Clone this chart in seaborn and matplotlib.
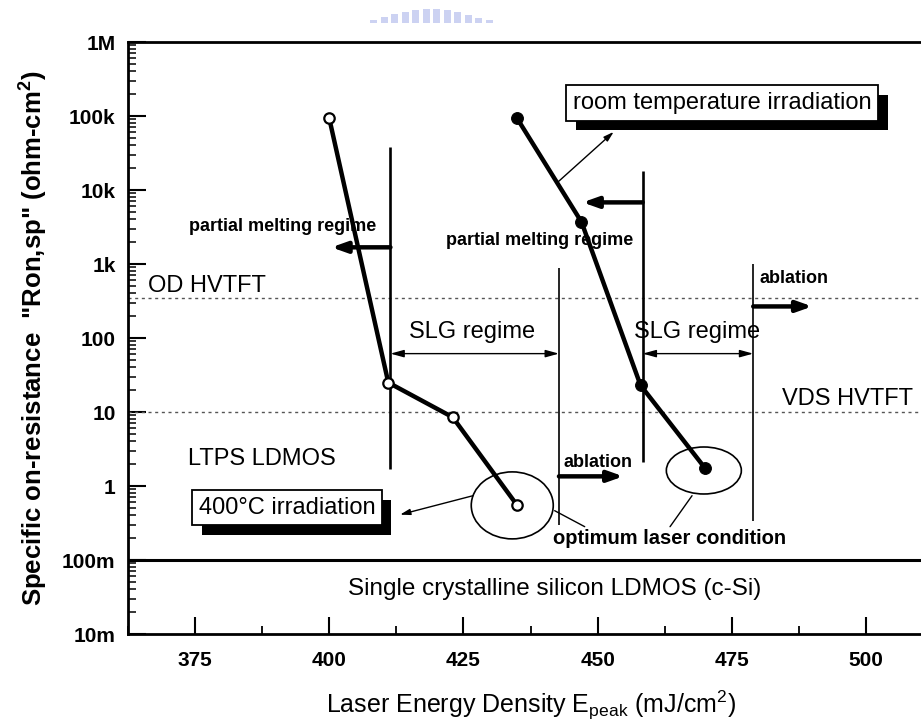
import numpy as np
import pandas as pd
import seaborn as sns
import matplotlib
matplotlib.use("Agg")
import matplotlib.pyplot as plt
import matplotlib.patheffects as pe
from matplotlib.patches import Ellipse, Rectangle
from matplotlib.ticker import FixedLocator, MultipleLocator, LogLocator, NullFormatter
from matplotlib.transforms import ScaledTranslation

# ---- measured data -------------------------------------------------------
energy_400c = [400, 411, 423, 435]          # mJ/cm^2, 400 C substrate
ron_400c = [93e3, 25, 8.5, 0.55]            # ohm-cm^2

energy_rt = [435, 447, 458, 470]            # mJ/cm^2, room temperature
ron_rt = [93e3, 3.7e3, 23, 1.75]            # ohm-cm^2

# reference device levels
od_hvtft = 350
vds_hvtft = 10
csi_ldmos = 0.1

# regime boundaries: (energy, low, high, heavy line)
boundaries = [(411.4, 1.68, 38.5e3, True),
              (442.8, 0.30, 880, False),
              (458.4, 2.1, 18e3, True),
              (479.0, 0.34, 1.0e3, False)]

x_ticks = [375, 400, 425, 450, 475, 500]
y_ticks = [1e-2, 1e-1, 1, 10, 100, 1e3, 1e4, 1e5, 1e6]
y_tick_labels = ["10m", "100m", "1", "10", "100", "1k", "10k", "100k", "1M"]

# ---- style ---------------------------------------------------------------
sns.set_style("ticks")
plt.rcParams["font.family"] = ["Liberation Sans", "DejaVu Sans"]
plt.rcParams["mathtext.fontset"] = "custom"
plt.rcParams["mathtext.rm"] = "Liberation Sans"
plt.rcParams["mathtext.bf"] = "Liberation Sans:bold"
plt.rcParams["mathtext.it"] = "Liberation Sans:italic"
for key in ["text.color", "axes.labelcolor", "xtick.color", "ytick.color", "axes.edgecolor"]:
    plt.rcParams[key] = "black"

fig = plt.figure(figsize=(9.21, 7.26), dpi=100)
fig.patch.set_facecolor("white")
ax = fig.add_axes([128 / 921, 92 / 726, 805 / 921, 592 / 726])

# faint logo watermark above the frame
for i, h in enumerate([3, 6, 9, 11, 13, 14, 14, 13, 11, 8, 5, 3]):
    fig.patches.append(Rectangle(((370 + i * 10.5) / 921, (726 - 23) / 726),
                                 7 / 921, h / 726, transform=fig.transFigure,
                                 fc="#aab4ea", ec="none", alpha=0.6))

# ---- data series ---------------------------------------------------------
df_400 = pd.DataFrame({"E": energy_400c, "R": ron_400c})
df_rt = pd.DataFrame({"E": energy_rt, "R": ron_rt})

sns.lineplot(data=df_400, x="E", y="R", ax=ax, color="black", lw=3.2,
             sort=False, estimator=None, marker="o", markersize=7.5,
             markerfacecolor="white", markeredgecolor="black",
             markeredgewidth=1.6, zorder=5)
sns.lineplot(data=df_rt, x="E", y="R", ax=ax, color="black", lw=3.2,
             sort=False, estimator=None, marker="o", markersize=8.5,
             markerfacecolor="black", markeredgecolor="black", zorder=5)

ax.set_yscale("log")
ax.set_xlim(362.5, 512.5)
ax.set_ylim(1e-2, 1e6)

# reference levels
ax.axhline(od_hvtft, color="#555555", lw=1.0, ls=(0, (2.2, 2.6)), zorder=1)
ax.axhline(vds_hvtft, color="#555555", lw=1.0, ls=(0, (2.2, 2.6)), zorder=1)
ax.axhline(csi_ldmos, color="black", lw=2.2, zorder=2)

# regime boundaries
for xb, lo, hi, heavy in boundaries:
    ax.plot([xb, xb], [lo, hi], color="black", lw=1.9 if heavy else 1.2,
            solid_capstyle="butt", zorder=3)

# ---- arrows --------------------------------------------------------------
def block_arrow(x0, x1, y):
    ax.annotate("", xy=(x1, y), xytext=(x0, y),
                arrowprops=dict(arrowstyle="-|>,head_length=0.9,head_width=0.32",
                                lw=3.2, color="black", shrinkA=0, shrinkB=0),
                zorder=4)

block_arrow(411.4, 400.4, 1.68e3)
block_arrow(458.4, 447.2, 6.8e3)
block_arrow(442.8, 454.8, 1.35)
block_arrow(479.0, 490.0, 267)

for x0, x1 in [(411.4, 442.8), (458.4, 479.0)]:
    ax.annotate("", xy=(x1, 61.5), xytext=(x0, 61.5),
                arrowprops=dict(arrowstyle="<|-|>,head_length=0.8,head_width=0.22",
                                lw=1.0, color="black", shrinkA=0, shrinkB=0),
                zorder=4)

# ---- text labels ---------------------------------------------------------
bold_small = dict(fontsize=13, fontweight="bold", zorder=6)
ax.text(391.3, 2.76e3, "partial melting regime", ha="center", va="baseline", **bold_small)
ax.text(439.2, 1.82e3, "partial melting regime", ha="center", va="baseline", **bold_small)
ax.text(450.0, 1.8, "ablation", ha="center", va="baseline", **bold_small)
ax.text(486.6, 553, "ablation", ha="center", va="baseline", **bold_small)

reg = dict(fontsize=17, zorder=6)
ax.text(366.2, 413, "OD HVTFT", ha="left", va="baseline", **reg)
ax.text(484.3, 12.6, "VDS HVTFT", ha="left", va="baseline", clip_on=False, **reg)
ax.text(373.7, 1.9, "LTPS LDMOS", ha="left", va="baseline", **reg)
ax.text(426.6, 100, "SLG regime", ha="center", va="baseline", **reg)
ax.text(468.5, 100, "SLG regime", ha="center", va="baseline", **reg)
ax.text(442.0, 0.0332, "Single crystalline silicon LDMOS (c-Si)",
        ha="center", va="baseline", fontsize=17.5, zorder=6)

ax.text(463.5, 0.166, "optimum laser condition", ha="center", va="baseline",
        fontsize=14.5, fontweight="bold", zorder=6)

# ellipses around the best points, sized in inches
def ring(xc, yc, w, h):
    tr = fig.dpi_scale_trans + ScaledTranslation(xc, yc, ax.transData)
    ax.add_patch(Ellipse((0, 0), w, h, transform=tr, fill=False,
                         ec="black", lw=1.2, zorder=4))

ring(434.1, 0.547, 0.82, 0.67)
ring(469.8, 1.62, 0.75, 0.47)

for (xa, ya), (xb, yb) in [((447.6, 0.282), (442.0, 0.464)),
                           ((463.5, 0.282), (467.6, 0.74))]:
    ax.plot([xa, xb], [ya, yb], color="black", lw=1.0, zorder=4)

# callout boxes with drop shadows
def callout(x, y, s):
    t = ax.text(x, y, s, ha="center", va="center", fontsize=17, zorder=7,
                bbox=dict(boxstyle="square,pad=0.28", fc="white", ec="black", lw=1.3))
    t.get_bbox_patch().set_path_effects(
        [pe.SimplePatchShadow(offset=(7, -7), shadow_rgbFace="black", alpha=1.0),
         pe.Normal()])
    return t

callout(473.2, 150e3, "room temperature irradiation")
callout(392.1, 0.51, "400°C irradiation")

thin_arrow = dict(arrowstyle="-|>,head_length=0.6,head_width=0.18", lw=1.0,
                  color="black", shrinkA=0, shrinkB=0)
ax.annotate("", xy=(453.0, 61e3), xytext=(442.7, 13e3), arrowprops=thin_arrow, zorder=6)
ax.annotate("", xy=(413.2, 0.41), xytext=(426.8, 0.74), arrowprops=thin_arrow, zorder=6)

# ---- axes styling --------------------------------------------------------
ax.xaxis.set_major_locator(FixedLocator(x_ticks))
ax.xaxis.set_minor_locator(MultipleLocator(12.5))
ax.set_xticklabels([str(v) for v in x_ticks], fontsize=15, fontweight="bold")

ax.yaxis.set_major_locator(FixedLocator(y_ticks))
ax.yaxis.set_minor_locator(LogLocator(base=10, subs=np.arange(2, 10)))
ax.yaxis.set_minor_formatter(NullFormatter())
ax.set_yticklabels(y_tick_labels, fontsize=15, fontweight="bold")

ax.tick_params(axis="x", which="major", direction="in", length=12, width=1.5, pad=12)
ax.tick_params(axis="x", which="minor", direction="in", length=6, width=1.3)
ax.tick_params(axis="y", which="major", direction="in", length=13, width=1.5, pad=9)
ax.tick_params(axis="y", which="minor", direction="in", length=6, width=1.1)

for side in ["left", "bottom", "top", "right"]:
    ax.spines[side].set_visible(True)
    ax.spines[side].set_linewidth(2.0)
    ax.spines[side].set_color("black")

ax.set_xlabel(r"Laser Energy Density E$_{\rm peak}$ (mJ/cm$^{2}$)", fontsize=18, labelpad=14)
ax.set_ylabel(r'Specific on-resistance  "Ron,sp" (ohm-cm$^{\mathbf{2}}$)',
              fontsize=18.5, fontweight="bold", labelpad=9)

fig.savefig("out.png", dpi=100, facecolor="white")
